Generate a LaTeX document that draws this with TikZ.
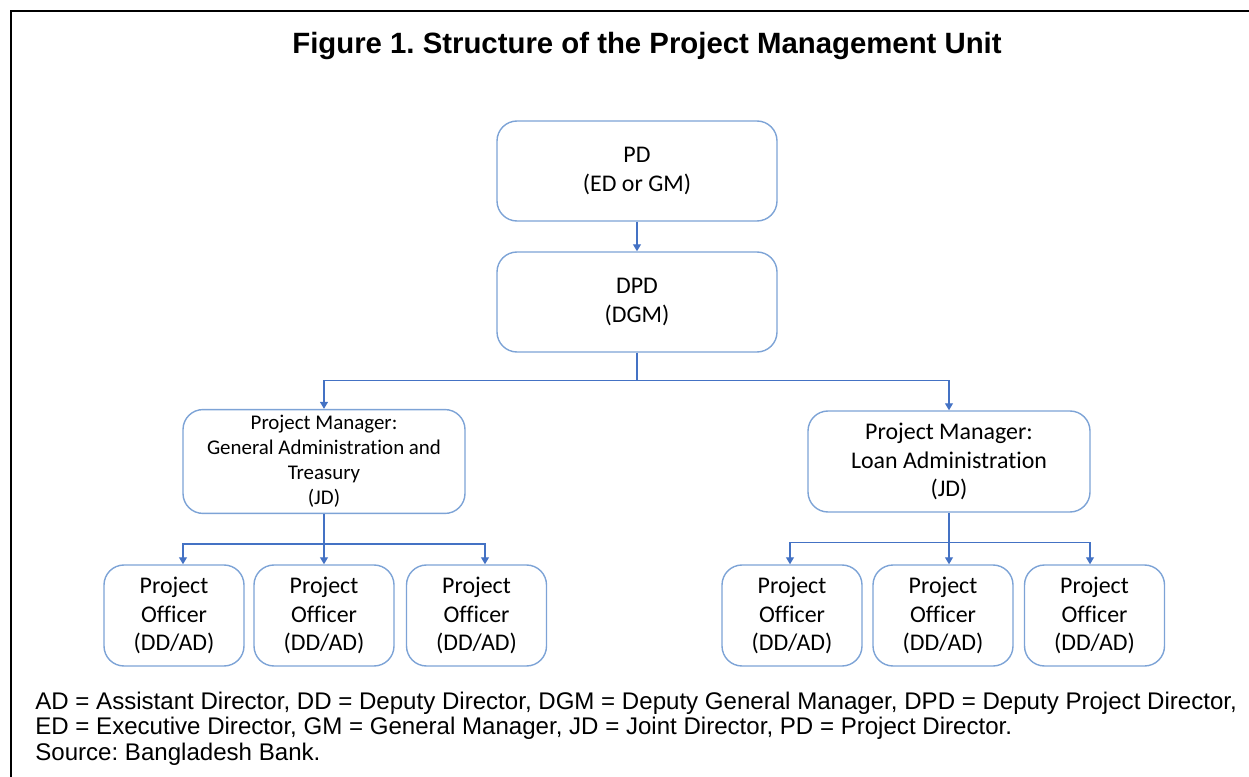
\documentclass[tikz,border=0pt]{standalone}
\usepackage{fontspec}
\setmainfont{Carlito}[Ligatures=NoCommon]
\newfontfamily\arialfont{Liberation Sans}
\usetikzlibrary{arrows.meta,positioning,calc}
\definecolor{boxblue}{RGB}{125,163,214}
\definecolor{linkblue}{RGB}{68,114,196}
\frenchspacing

\begin{document}
\begin{tikzpicture}[
    unit/.style={rectangle, draw=boxblue, line width=0.8pt, rounded corners=0.4cm, minimum width=5.6cm, minimum height=2cm, align=center, font=\fontsize{13.6}{16.2}\selectfont},
    manager/.style={unit, minimum width=5.64cm, minimum height=2.02cm},
    officer/.style={unit, minimum width=2.8cm, minimum height=2.02cm},
    link/.style={draw=linkblue, line width=0.8pt},
    arrow/.style={link, -{Triangle[width=4.5pt,length=4pt]}}
]
\useasboundingbox (0,0) rectangle (24.98,-15.54);

% Frame and title
\draw[line width=1.1pt] (0.22,-15.54) -- (0.22,-0.22) -- (24.98,-0.22);
\node[font=\arialfont\bfseries\fontsize{16.7}{20}\selectfont] (title) at (12.94,-0.92) {Figure 1. Structure of the Project Management Unit};

% Directors
\node[unit] (pd) at (12.74,-3.42) {PD\\(ED or GM)};
\node[unit] (dpd) at (12.74,-6.04) {DPD\\(DGM)};

% Project managers
\node[manager, font=\fontsize{11.9}{14.2}\selectfont] (pmga) at (6.48,-9.23) {Project Manager:\\General Administration and\\Treasury\\(JD)};
\node[manager] (pmla) at (18.98,-9.23) {Project Manager:\\Loan Administration\\(JD)};

% Project officers
\node[officer] (offa) at (3.48,-12.31) {Project\\Officer\\(DD/AD)};
\node[officer] (offb) at (6.48,-12.31) {Project\\Officer\\(DD/AD)};
\node[officer] (offc) at (9.53,-12.31) {Project\\Officer\\(DD/AD)};
\node[officer] (offd) at (15.84,-12.31) {Project\\Officer\\(DD/AD)};
\node[officer] (offe) at (18.86,-12.31) {Project\\Officer\\(DD/AD)};
\node[officer] (offf) at (21.89,-12.31) {Project\\Officer\\(DD/AD)};

% Connections
\draw[arrow] (pd) -- (dpd);
\draw[link] (dpd.south) -- ++(0,-0.56) coordinate (bustop);
\draw[arrow] (bustop) -| (pmga.north);
\draw[arrow] (bustop) -| (pmla.north);

\draw[link] (pmga.south) -- ++(0,-0.6) coordinate (busga);
\draw[arrow] (busga) -| ([xshift=0.18cm]offa.north);
\draw[arrow] (busga) -- (offb.north);
\draw[arrow] (busga) -| ([xshift=0.17cm]offc.north);

\draw[link] (pmla.south) -- ++(0,-0.6) coordinate (busla);
\draw[arrow] (busla) -| ([xshift=-0.04cm]offd.north);
\draw[arrow] (busla) -- (busla |- offe.north);
\draw[arrow] (busla) -| ([xshift=-0.09cm]offf.north);

% Notes
\begin{scope}[every node/.style={anchor=base west, inner sep=0pt, font=\arialfont\fontsize{13.7}{15}\selectfont}]
\node (abbr1) at (0.7,-14.18) {AD = Assistant Director, DD = Deputy Director, DGM = Deputy General Manager, DPD = Deputy Project Director,};
\node (abbr2) at (0.7,-14.68) {ED = Executive Director, GM = General Manager, JD = Joint Director, PD = Project Director.};
\node (source) at (0.7,-15.2) {Source: Bangladesh Bank.};
\end{scope}

\end{tikzpicture}
\end{document}
